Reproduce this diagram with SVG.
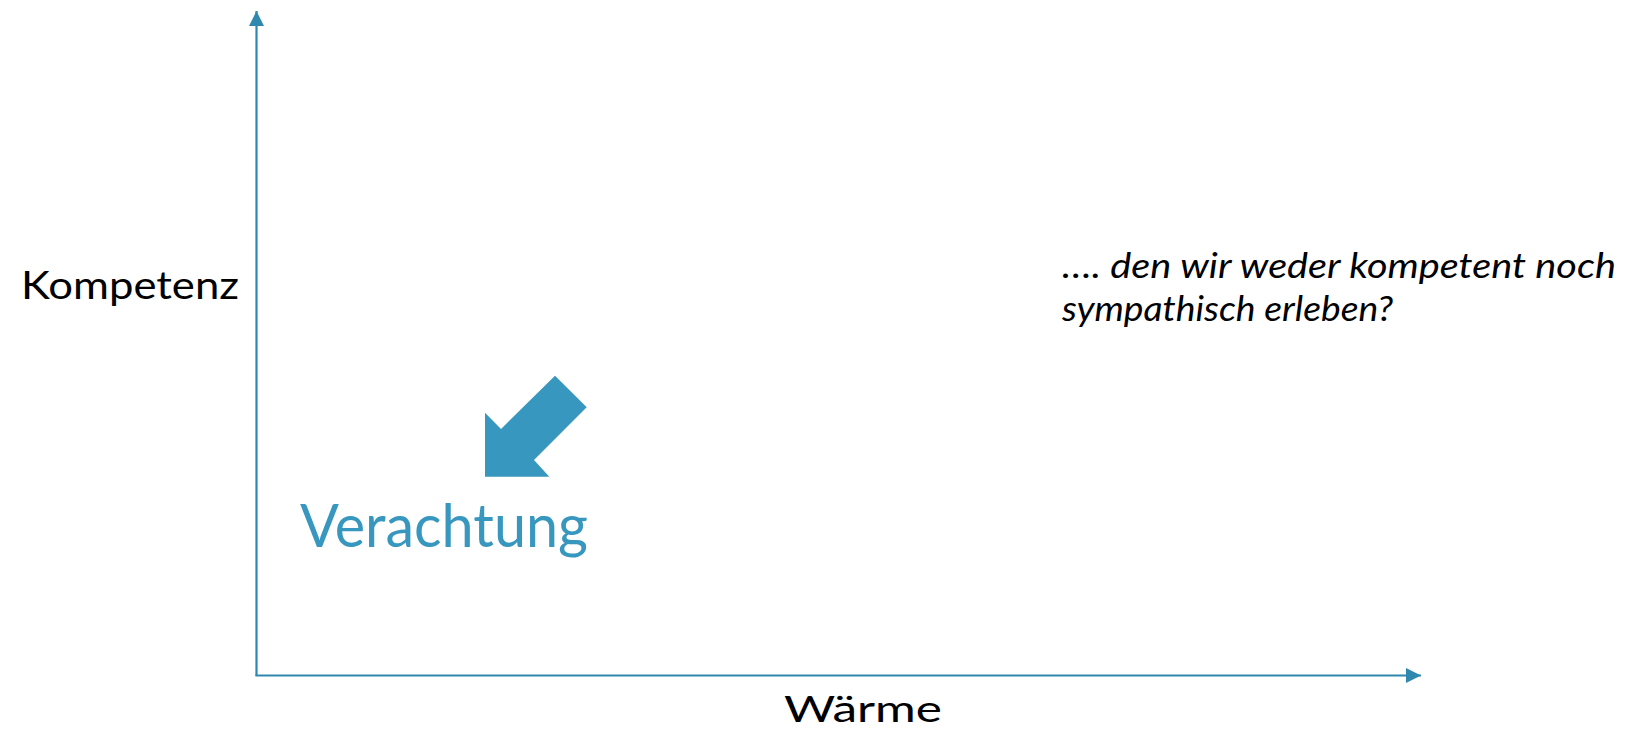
<svg xmlns="http://www.w3.org/2000/svg" width="1628" height="733" viewBox="0 0 1628 733">
<defs>
<style>
.axis{stroke:#2F88AD;stroke-width:2.2;fill:none}
.lbl{font-family:Lato,"Open Sans","Liberation Sans",sans-serif;fill:#000}
.note{font-family:Lato,"Open Sans","Liberation Sans",sans-serif;font-style:italic;font-size:34px;fill:#000}
</style>
<marker id="ah" viewBox="0 0 15 15" refX="15" refY="7.5" markerWidth="15" markerHeight="15" markerUnits="userSpaceOnUse" orient="auto">
<path d="M0,0 L15,7.5 L0,15 Z" fill="#2F88AD"/>
</marker>
</defs>
<rect width="1628" height="733" fill="#fff"/>
<g id="connectors">
<line class="axis" x1="256.5" y1="676" x2="256.5" y2="11" marker-end="url(#ah)"/>
<line class="axis" x1="255.5" y1="675.5" x2="1421" y2="675.5" marker-end="url(#ah)"/>
</g>
<g id="arrow">
<path d="M485,476.7 L485,412.7 L501,429 L555,375.7 L586.7,407.3 L534,460 L549.3,476.7 Z" fill="#3797BF"/>
</g>
<g id="verachtung">
<text x="300" y="547" font-family="Lato,'Open Sans','Liberation Sans',sans-serif" font-size="60" fill="#3797BF" textLength="288" lengthAdjust="spacingAndGlyphs">Verachtung</text>
</g>
<g id="kompetenz">
<text class="lbl" x="21" y="299.3" font-size="38" textLength="218" lengthAdjust="spacingAndGlyphs">Kompetenz</text>
</g>
<g id="waerme">
<text class="lbl" x="784" y="721.7" font-size="36" textLength="158" lengthAdjust="spacingAndGlyphs">Wärme</text>
</g>
<g id="note">
<text class="note" x="1062" y="278" textLength="554" lengthAdjust="spacingAndGlyphs">…. den wir weder kompetent noch</text>
<text class="note" x="1062" y="321" textLength="331" lengthAdjust="spacingAndGlyphs">sympathisch erleben?</text>
</g>
</svg>
